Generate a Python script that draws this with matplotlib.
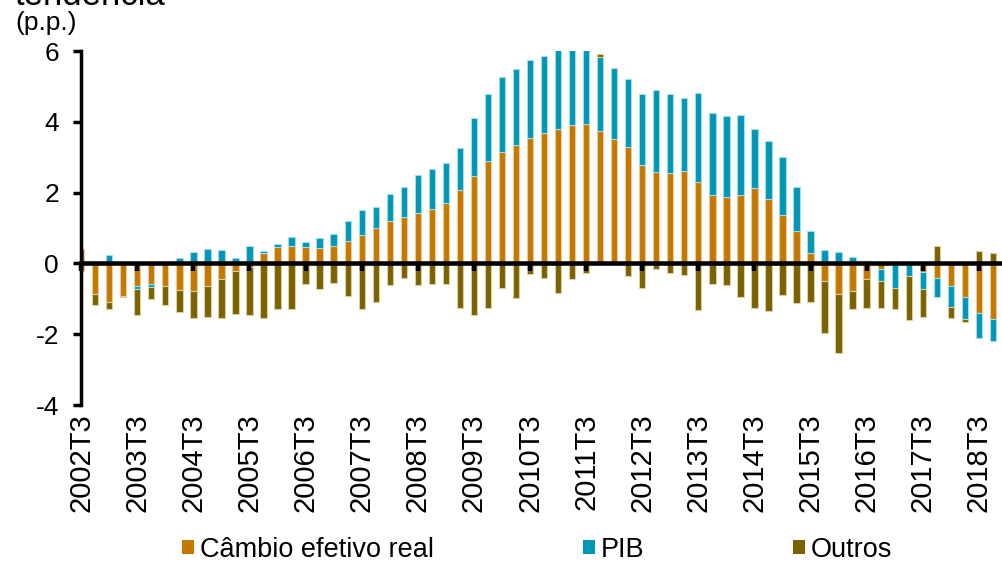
import numpy as np
import matplotlib
matplotlib.use("Agg")
import matplotlib.pyplot as plt
from matplotlib.patches import Patch

plt.rcParams['font.family'] = ['Liberation Sans', 'DejaVu Sans']
plt.rcParams['axes.unicode_minus'] = False

# trimestres 2002T3 .. 2018T4
quarters = [f"{y}T{q}" for y in range(2002, 2019) for q in range(1, 5)][2:]

cambio = [-0.22, -0.85, -1.08, -0.91, -0.64, -0.59, -0.63, -0.74, -0.78, -0.65,
          -0.45, -0.22, -0.10, 0.30, 0.46, 0.50, 0.47, 0.44, 0.49, 0.63,
          0.81, 1.01, 1.19, 1.30, 1.43, 1.54, 1.72, 2.08, 2.48, 2.88,
          3.15, 3.34, 3.55, 3.69, 3.81, 3.90, 3.95, 3.75, 3.51, 3.28,
          2.78, 2.57, 2.55, 2.61, 2.29, 1.93, 1.87, 1.94, 2.12, 1.83,
          1.37, 0.92, 0.30, -0.51, -0.86, -0.78, -0.45, -0.17, -0.02, -0.02,
          -0.25, -0.42, -0.64, -0.95, -1.40, -1.56]
pib = [0.00, 0.06, 0.23, 0.00, -0.07, -0.07, 0.00, 0.15, 0.33, 0.40,
       0.37, 0.16, 0.48, 0.05, 0.10, 0.24, 0.13, 0.28, 0.33, 0.56,
       0.70, 0.59, 0.78, 0.87, 1.08, 1.13, 1.13, 1.18, 1.64, 1.92,
       2.12, 2.15, 2.21, 2.18, 2.25, 2.20, 2.12, 2.08, 2.02, 1.92,
       2.01, 2.34, 2.23, 2.05, 2.52, 2.32, 2.29, 2.25, 1.69, 1.62,
       1.64, 1.23, 0.63, 0.37, 0.32, 0.18, 0.07, -0.32, -0.66, -0.34,
       -0.46, -0.53, -0.59, -0.62, -0.70, -0.62]
outros = [0.40, -0.33, -0.22, -0.05, -0.76, -0.34, -0.54, -0.64, -0.77, -0.87,
          -1.10, -1.20, -1.36, -1.55, -1.30, -1.29, -0.57, -0.73, -0.54, -0.91,
          -1.29, -1.08, -0.62, -0.42, -0.60, -0.57, -0.59, -1.27, -1.45, -1.25,
          -0.68, -0.97, -0.31, -0.40, -0.84, -0.44, -0.26, 0.10, 0.00, -0.36,
          -0.70, -0.17, -0.28, -0.32, -1.31, -0.59, -0.61, -0.95, -1.26, -1.35,
          -0.90, -1.12, -1.09, -1.45, -1.68, -0.51, -0.81, -0.76, -0.61, -1.24,
          -0.81, 0.49, -0.31, -0.09, 0.35, 0.30]

tick_labels = quarters[::4]

series = [
    (cambio, "Câmbio efetivo real", "#C47800", "#E9CC9A"),
    (pib, "PIB", "#0096B6", "#A6DCE8"),
    (outros, "Outros", "#7A6200", "#D9CFA3"),
]

fig = plt.figure(figsize=(10.02, 5.61), dpi=100)
ax = fig.add_axes([0.081, 0.278, 0.919, 0.631])

x = np.arange(len(quarters))
pos = np.zeros(len(x))
neg = np.zeros(len(x))
for vals, name, col, edge in series:
    v = np.array(vals)
    bottom = np.where(v >= 0, pos, neg)
    ax.bar(x, v, bottom=bottom, width=0.45, color=col, edgecolor=edge, linewidth=0.8)
    pos += np.clip(v, 0, None)
    neg += np.clip(v, None, 0)

ax.set_xlim(0, 65.65)
ax.set_ylim(-4, 6)
ax.set_yticks([-4, -2, 0, 2, 4, 6])
ax.tick_params(axis='y', direction='out', length=6, width=2.5, labelsize=19, pad=10)

ax.spines['top'].set_visible(False)
ax.spines['right'].set_visible(False)
ax.spines['left'].set_linewidth(2.5)
ax.spines['bottom'].set_position(('data', 0))
ax.spines['bottom'].set_linewidth(3.3)
ax.set_xticks(x[::4])
ax.tick_params(axis='x', direction='out', length=6, width=3.2, labelbottom=False)

sec = ax.secondary_xaxis('bottom')
sec.set_xticks(x[::4], labels=tick_labels, rotation=90)
sec.tick_params(length=0, pad=6, labelsize=21)
sec.spines['bottom'].set_visible(False)

fig.text(0.014, 1 - 5 / 561, "tendência", fontsize=25, va='baseline')
fig.text(0.015, 1 - 30 / 561, "(p.p.)", fontsize=19, va='baseline')

handles = [Patch(facecolor=s[2]) for s in series]
fig.legend(handles, [s[1] for s in series], loc='center', bbox_to_anchor=(0.536, 0.02),
           ncol=3, frameon=False, fontsize=19.5, handlelength=0.45, handleheight=0.45,
           handletextpad=0.2, columnspacing=5.5, borderpad=0)

fig.savefig("out.png", dpi=100)
